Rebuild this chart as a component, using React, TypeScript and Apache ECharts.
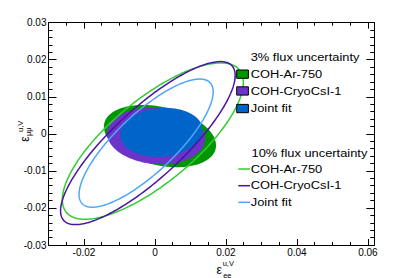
import React, { useEffect, useRef } from "react";
import * as echarts from "echarts";

// Contour names
const names = ["COH-Ar-750", "COH-CryoCsI-1", "Joint fit"];

// 3% flux uncertainty (filled regions): centre, half-extent in x / y, correlation
const cx3 = [0.0014, 0.0003, 0.0018];
const cy3 = [-0.0006, -0.0006, 0.0004];
const halfX3 = [0.0158, 0.0138, 0.0116];
const halfY3 = [0.0084, 0.0076, 0.0066];
const corr3 = [-0.3, -0.1, 0.1];

// 10% flux uncertainty (outlines)
const cx10 = [-0.0006, -0.002, -0.0025];
const cy10 = [-0.00195, -0.0025, -0.0025];
const halfX10 = [0.0255, 0.0246, 0.0189];
const halfY10 = [0.0211, 0.022, 0.0173];
const corr10 = [0.75, 0.83, 0.8];

// Axis ticks
const xLabelTicks = [-0.02, 0, 0.02, 0.04, 0.06];

const fillColors = ["#009600", "#6c34c8", "#0064c8"];
const lineColors = ["#33cc33", "#4814a0", "#4da6ff"];

const FONT = '"Liberation Sans", Arial, Helvetica, sans-serif';

function fmt(v: number) {
  const r = Math.round(v * 1000) / 1000;
  return r === 0 ? "0" : String(r);
}

function makeRender(filled: boolean) {
  return (params: any, api: any) => {
    const cx = api.value(0);
    const cy = api.value(1);
    const hx = api.value(2);
    const hy = api.value(3);
    const r = api.value(4);
    const s = Math.sqrt(Math.max(0, 1 - r * r));
    const pts: number[][] = [];
    const N = 240;
    for (let i = 0; i < N; i++) {
      const t = (i / N) * Math.PI * 2;
      pts.push(
        api.coord([cx + hx * Math.cos(t), cy + hy * (r * Math.cos(t) + s * Math.sin(t))])
      );
    }
    const c = filled ? fillColors[params.dataIndex] : lineColors[params.dataIndex];
    return {
      type: "polygon",
      shape: { points: pts },
      style: filled
        ? { fill: c, stroke: "none" }
        : { fill: "none", stroke: c, lineWidth: 1.5 },
    };
  };
}

export default function App() {
  const ref = useRef<HTMLDivElement>(null);
  useEffect(() => {
    if (!ref.current) return;
    const chart = echarts.init(ref.current, undefined, { renderer: "svg" });

    const gridL = 48.5;
    const gridT = 22.7;
    const gridW = 325.8;
    const gridH = 222.3;

    const axisLine = { show: true, onZero: false, lineStyle: { color: "#000", width: 1 } };
    const labelStyle = { fontFamily: FONT, fontSize: 10, color: "#000" };

    const xMajor = (pos: string, showLabel: boolean) => ({
      type: "value",
      gridIndex: 0,
      position: pos,
      min: -0.03,
      max: 0.0618,
      axisLine,
      axisTick: {
        show: true,
        inside: true,
        length: 6,
        customValues: xLabelTicks,
        lineStyle: { color: "#000", width: 1 },
      },
      axisLabel: {
        show: showLabel,
        customValues: xLabelTicks,
        margin: 2,
        formatter: fmt,
        ...labelStyle,
      },
      splitLine: { show: false },
    });
    const xMinor = (pos: string) => ({
      type: "value",
      gridIndex: 0,
      position: pos,
      min: -0.03,
      max: 0.0618,
      interval: 0.005,
      axisLine: { show: false, onZero: false },
      axisTick: { show: true, inside: true, length: 3, lineStyle: { color: "#000", width: 1 } },
      axisLabel: { show: false },
      splitLine: { show: false },
    });
    const yAxisDef = (pos: string, showLabel: boolean) => ({
      type: "value",
      gridIndex: 0,
      position: pos,
      min: -0.03,
      max: 0.03,
      interval: 0.01,
      axisLine,
      axisTick: { show: true, inside: true, length: 8, lineStyle: { color: "#000", width: 1 } },
      minorTick: { show: true, splitNumber: 5, length: 4, lineStyle: { color: "#000", width: 1 } },
      axisLabel: { show: showLabel, margin: 2, formatter: fmt, ...labelStyle },
      splitLine: { show: false },
      minorSplitLine: { show: false },
    });

    const txt = (text: string, x: number, y: number, size: number, extra: any = {}) => ({
      type: "text",
      x,
      y,
      z: 100,
      ...extra,
      style: {
        text,
        x: 0,
        y: 0,
        fill: "#000",
        font: `${size}px ${FONT}`,
        fontSize: size,
        fontFamily: FONT,
        align: extra.align || "left",
        verticalAlign: "middle",
        textAlign: extra.align || "left",
        textVerticalAlign: "middle",
      },
    });

    const legendScale = 1.17;
    const graphics: any[] = [];
    // 3% legend
    graphics.push(txt("3% flux uncertainty", 250.7, 57.3, 11, { scaleX: legendScale }));
    const boxY = [70, 86.8, 104.4];
    const boxTextY = [74.2, 91, 108.6];
    names.forEach((n, i) => {
      graphics.push({
        type: "rect",
        z: 100,
        shape: { x: 236.7, y: boxY[i], width: 11.7, height: 8.3 },
        style: { fill: fillColors[i], stroke: "#000", lineWidth: 1 },
      });
      graphics.push(txt(n, 250.7, boxTextY[i], 11, { scaleX: legendScale }));
    });
    // 10% legend
    graphics.push(txt("10% flux uncertainty", 251.5, 153.3, 11, { scaleX: legendScale }));
    const lineY = [169, 185.7, 202.3];
    names.forEach((n, i) => {
      graphics.push({
        type: "line",
        z: 100,
        shape: { x1: 238.3, y1: lineY[i], x2: 250, y2: lineY[i] },
        style: { stroke: lineColors[i], lineWidth: 1.5 },
      });
      graphics.push(txt(n, 250.7, lineY[i], 11, { scaleX: legendScale }));
    });
    // x-axis title
    graphics.push(txt("ε", 219.2, 270, 12, { align: "center" }));
    graphics.push(txt("u,V", 222.7, 263.3, 7.5));
    graphics.push(txt("ee", 223.2, 275, 7.5));
    // y-axis title (rotated)
    const rot = Math.PI / 2;
    graphics.push(txt("ε", 25, 139, 12, { align: "center", rotation: rot }));
    graphics.push(txt("u,V", 20.5, 126.3, 7.5, { align: "center", rotation: rot }));
    graphics.push(txt("μμ", 28, 131.7, 7.5, { align: "center", rotation: rot }));

    const data3 = names.map((_, i) => [cx3[i], cy3[i], halfX3[i], halfY3[i], corr3[i]]);
    const data10 = names.map((_, i) => [cx10[i], cy10[i], halfX10[i], halfY10[i], corr10[i]]);

    chart.setOption({
      animation: false,
      backgroundColor: "#fff",
      grid: [
        {
          left: gridL,
          top: gridT,
          width: gridW,
          height: gridH,
          containLabel: false,
          outerBoundsMode: "none",
        },
      ],
      xAxis: [xMajor("bottom", true), xMajor("top", false), xMinor("bottom"), xMinor("top")],
      yAxis: [yAxisDef("left", true), yAxisDef("right", false)],
      series: [
        {
          type: "custom",
          name: "3% flux uncertainty",
          xAxisIndex: 0,
          yAxisIndex: 0,
          renderItem: makeRender(true),
          encode: { x: 0, y: 1 },
          data: data3,
          silent: true,
        },
        {
          type: "custom",
          name: "10% flux uncertainty",
          xAxisIndex: 0,
          yAxisIndex: 0,
          renderItem: makeRender(false),
          encode: { x: 0, y: 1 },
          data: data10,
          silent: true,
        },
      ],
      graphic: graphics,
    });
    return () => chart.dispose();
  }, []);
  return (
    <div
      ref={ref}
      style={{ position: "fixed", left: 0, top: 0, width: 407, height: 278, background: "#fff" }}
    />
  );
}
